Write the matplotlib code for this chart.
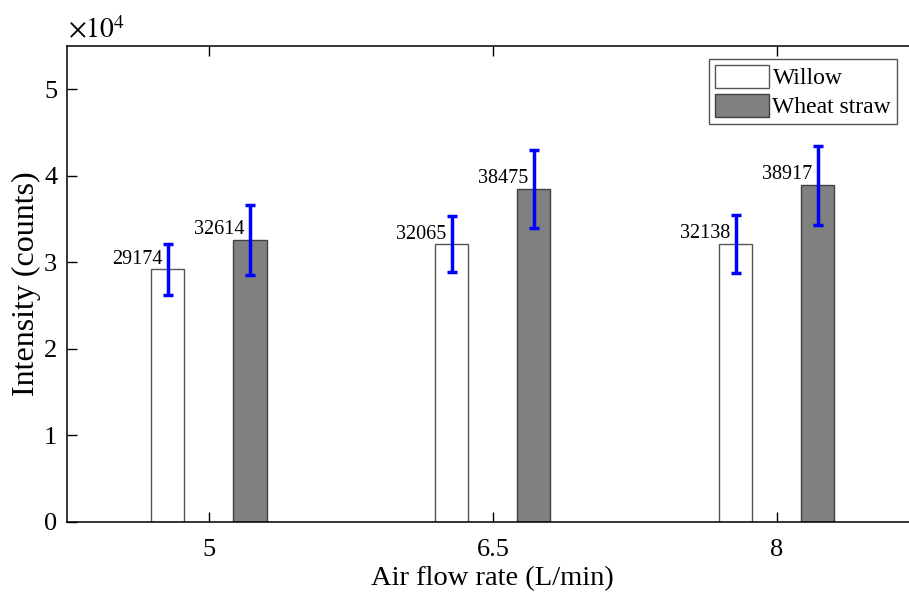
import numpy as np
import matplotlib
matplotlib.use('Agg')
import matplotlib.pyplot as plt
from matplotlib.ticker import FuncFormatter

plt.rcParams['font.family'] = ['Liberation Serif', 'DejaVu Serif']
plt.rcParams['mathtext.fontset'] = 'stix'

# data
flow_rates = [5, 6.5, 8]
flow_labels = ['5', '6.5', '8']
willow = [29174, 32065, 32138]
willow_err = [2950, 3230, 3350]
wheat = [32614, 38475, 38917]
wheat_err = [4060, 4545, 4560]

fig = plt.figure(figsize=(9.09, 5.96), dpi=100)
ax = fig.add_axes([0.0737, 0.1242, 0.937, 0.7987])

x = np.array(flow_rates)
offset = 0.217
width = 0.175

ax.bar(x - offset, willow, width, color='white', edgecolor='#555555', linewidth=1.0, label='Willow', zorder=2)
ax.bar(x + offset, wheat, width, color='#808080', edgecolor='#404040', linewidth=1.0, label='Wheat straw', zorder=2)

ax.errorbar(x - offset, willow, yerr=willow_err, fmt='none', ecolor='blue', elinewidth=2.5, capsize=3.5, capthick=2.5, zorder=3)
ax.errorbar(x + offset, wheat, yerr=wheat_err, fmt='none', ecolor='blue', elinewidth=2.5, capsize=3.5, capthick=2.5, zorder=3)

# value labels
for xi, v in zip(x - offset, willow):
    ax.text(xi - 0.03, v + 1200, str(v), ha='right', va='center', fontsize=14.5)
for xi, v in zip(x + offset, wheat):
    ax.text(xi - 0.03, v + 1200, str(v), ha='right', va='center', fontsize=14.5)

ax.set_xlim(4.25, 8.75)
ax.set_ylim(0, 55000)
ax.set_xticks(flow_rates)
ax.set_xticklabels(flow_labels)
ax.set_yticks(np.arange(0, 50001, 10000))
ax.yaxis.set_major_formatter(FuncFormatter(lambda v, p: f'{v/1e4:g}'))
ax.tick_params(direction='in', length=7, labelsize=19, top=True, width=1)
ax.tick_params(axis='x', pad=12)
ax.tick_params(axis='y', pad=7)
for s in ax.spines.values():
    s.set_linewidth(1.1)
ax.spines['right'].set_visible(False)

ax.set_xlabel('Air flow rate (L/min)', fontsize=20.5, labelpad=4)
ax.set_ylabel('Intensity (counts)', fontsize=23, labelpad=2)
fig.text(68/909, 1 - 31/596, r'$\times 10^4$', fontsize=20, ha='left', va='center')

ax.legend(loc='upper right', bbox_to_anchor=(897/909, 1 - 59/596), bbox_transform=fig.transFigure,
          fontsize=17, frameon=True, fancybox=False, edgecolor='#555555', framealpha=1,
          borderaxespad=0, handlelength=2.3, handleheight=1.1, handletextpad=0.15,
          labelspacing=0.2, borderpad=0.25)

fig.savefig('out.png', dpi=100)
